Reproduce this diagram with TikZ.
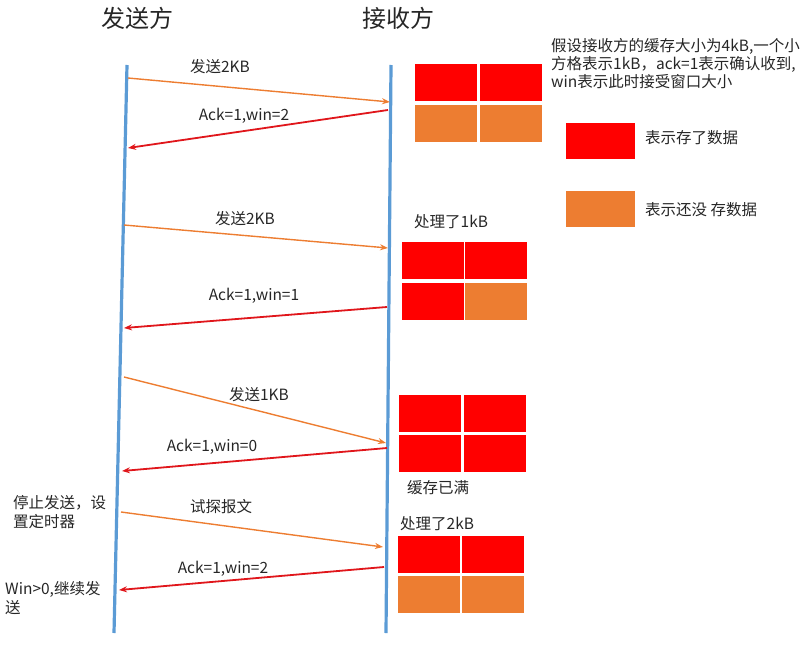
\documentclass[tikz,border=0pt]{standalone}
\usepackage{fontspec}
\setmainfont{Noto Sans CJK SC}
\usetikzlibrary{arrows.meta}
\definecolor{lifeblue}{HTML}{5B9BD5}
\definecolor{sendorange}{HTML}{ED7D31}
\definecolor{ackred}{HTML}{E0161B}
\definecolor{fullred}{HTML}{FF0000}
\definecolor{emptyorange}{HTML}{ED7D31}
\definecolor{txt}{HTML}{262626}
\tikzset{
  lifeline/.style={draw=lifeblue, line width=3.2pt},
  sendarrow/.style={draw=sendorange, line width=1.4pt, -{Stealth[length=8pt,width=6pt]}},
  ackarrow/.style={draw=ackred, line width=1.8pt, -{Stealth[length=8pt,width=6pt]}},
  lbl/.style={inner sep=0pt, text=txt, font=\fontsize{15.5}{18}\selectfont},
  title/.style={inner sep=0pt, text=txt, font=\fontsize{24}{28}\selectfont},
  note/.style={inner sep=0pt, text=txt, anchor=north west, align=left, font=\fontsize{15.5}{19}\selectfont},
  full/.style={fill=fullred, draw=none, anchor=north west, inner sep=0pt, minimum width=62pt, minimum height=37pt},
  empty/.style={fill=emptyorange, draw=none, anchor=north west, inner sep=0pt, minimum width=62pt, minimum height=37pt}
}
\begin{document}
\begin{tikzpicture}[x=1pt,y=-1pt]
\useasboundingbox (0,0) rectangle (808,658);
% titles
\node[title] (ts) at (137,18) {发送方};
\node[title] (tr) at (398,18) {接收方};
% lifelines
\coordinate (stop) at (127,65);
\coordinate (sbot) at (114,633);
\coordinate (rtop) at (391,65);
\coordinate (rbot) at (386,633);
\draw[lifeline] (stop) -- (sbot);
\draw[lifeline] (rtop) -- (rbot);
% arrow end points on lifelines
\coordinate (s1) at (128,78);   \coordinate (r1) at (390,102);
\coordinate (r2) at (388,110);  \coordinate (s2) at (128,148);
\coordinate (s3) at (124,225);  \coordinate (r3) at (388,248);
\coordinate (r4) at (387,307);  \coordinate (s4) at (124,328);
\coordinate (s5) at (124,377);  \coordinate (r5) at (386,443);
\coordinate (r6) at (387,448);  \coordinate (s6) at (122,471);
\coordinate (s7) at (121,512);  \coordinate (r7) at (383,547);
\coordinate (r8) at (384,567);  \coordinate (s8) at (119,590);
\draw[sendarrow] (s1) -- (r1);
\draw[ackarrow] (r2) -- (s2);
\draw[sendarrow] (s3) -- (r3);
\draw[ackarrow] (r4) -- (s4);
\draw[sendarrow] (s5) -- (r5);
\draw[ackarrow] (r6) -- (s6);
\draw[sendarrow] (s7) -- (r7);
\draw[ackarrow] (r8) -- (s8);
% arrow labels
\node[lbl] (l1) at (220,67) {发送2KB};
\node[lbl] (l2) at (244,116) {Ack=1,win=2};
\node[lbl] (l3) at (245,219) {发送2KB};
\node[lbl] (l4) at (254,296) {Ack=1,win=1};
\node[lbl] (l5) at (259,395) {发送1KB};
\node[lbl] (l6) at (212,447) {Ack=1,win=0};
\node[lbl] (l7) at (221,507) {试探报文};
\node[lbl] (l8) at (223,569) {Ack=1,win=2};
% side notes on sender
\node[note] (n1) at (13,495) {停止发送，设\\置定时器};
\node[note] (n2) at (5,581) {Win>0,继续发\\送};
% buffer block 1
\node[full]  (b1a) at (415,64) {};
\node[full]  (b1b) at (480,64) {};
\node[empty] (b1c) at (415,105) {};
\node[empty] (b1d) at (480,105) {};
% buffer block 2
\node[lbl, anchor=west] (c2) at (414,222) {处理了1kB};
\node[full]  (b2a) at (402,242) {};
\node[full]  (b2b) at (465,242) {};
\node[full]  (b2c) at (402,283) {};
\node[empty] (b2d) at (465,283) {};
% buffer block 3
\node[full]  (b3a) at (399,395) {};
\node[full]  (b3b) at (464,395) {};
\node[full]  (b3c) at (399,435) {};
\node[full]  (b3d) at (464,435) {};
\node[lbl, anchor=west] (c3) at (407,488) {缓存已满};
% buffer block 4
\node[lbl, anchor=west] (c4) at (400,524) {处理了2kB};
\node[full]  (b4a) at (398,536) {};
\node[full]  (b4b) at (462,536) {};
\node[empty] (b4c) at (398,576) {};
\node[empty] (b4d) at (462,576) {};
% explanation and legend
\node[note, font=\fontsize{15.5}{18}\selectfont] (expl) at (551,38) {假设接收方的缓存大小为4kB,一个小\\方格表示1kB，ack=1表示确认收到,\\win表示此时接受窗口大小};
\node[full, minimum width=69pt, minimum height=36pt] (lgfull) at (566,123) {};
\node[lbl, anchor=west] (lgt1) at (645,138) {表示存了数据};
\node[empty, minimum width=69pt, minimum height=36pt] (lgempty) at (566,191) {};
\node[lbl, anchor=west] (lgt2) at (645,210) {表示还没 存数据};
\end{tikzpicture}
\end{document}
